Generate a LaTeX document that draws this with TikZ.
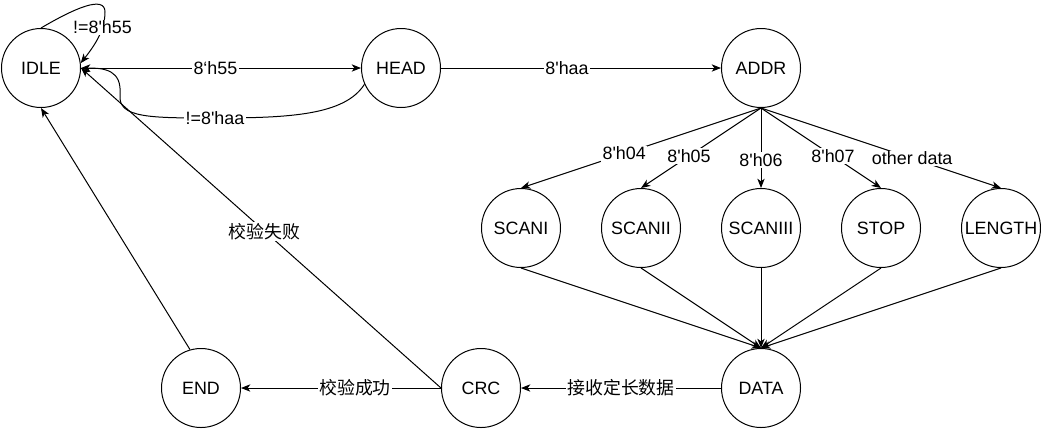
\documentclass[tikz,border=0pt]{standalone}
\usepackage{fontspec}
\setmainfont{Liberation Sans}
\newfontfamily\cjk{Noto Sans CJK SC}
\usetikzlibrary{arrows.meta}
\tikzset{every picture/.style={x=0.75pt, y=-0.75pt, line width=0.75pt, font=\fontsize{13.4}{16}\selectfont}}
\tikzset{every node/.style={inner sep=1pt}}
\tikzset{state/.style={draw, circle, minimum size=59.25pt, inner sep=0pt}}
\tikzset{lbl/.style={fill=white}}
\tikzset{trans/.style={-{Stealth[length=7pt, width=5.5pt, inset=2pt]}}}
\newcommand{\tq}{\textquotesingle}

\begin{document}
\begin{tikzpicture}
\useasboundingbox (0,0) rectangle (1041,430);
\node[state] (idle) at (41,68) {IDLE};
\node[state] (head) at (401,68) {HEAD};
\node[state] (addr) at (761,68) {ADDR};
\foreach \n/\t/\x in {scani/SCANI/521, scanii/SCANII/641, scaniii/SCANIII/761, stop/STOP/881, length/LENGTH/1001} {
\node[state] (\n) at (\x,228) {\t};
}
\node[state] (data) at (761,388) {DATA};
\node[state] (crc) at (481,388) {CRC};
\node[state] (fin) at (201,388) {END};
\draw[trans] (idle.north) .. controls (75,8) and (105,-5) .. (105,12) .. controls (105,30) and (95,45) .. (idle.7) node[lbl,pos=0.3] {!=8\tq h55};
\draw[trans] (idle) -- node[lbl,pos=0.48] {8‘h55} (head);
\draw[trans] (head.204) .. controls (345,115) and (290,118) .. (215,118) node[lbl] {!=8\tq haa} .. controls (150,118) and (118,118) .. (120,95) .. controls (122,70) and (105,68) .. (idle.east);
\draw[trans] (head) -- node[lbl,pos=0.45] {8\tq haa} (addr);
\foreach \n/\l/\p in {scani/8\tq h04/0.57, scanii/8\tq h05/0.6, scaniii/8\tq h06/0.65, stop/8\tq h07/0.6, length/other data/0.63} {
\draw[trans] (addr.south) -- node[lbl,pos=\p] {\l} (\n.north);
\draw[trans] (\n.south) -- (data.north);
}
\draw[trans] (data) -- node[lbl] {\cjk 接收定长数据} (crc);
\draw[trans] (crc) -- node[lbl,pos=0.43] {\cjk 校验成功} (fin);
\draw[trans] (crc.west) -- node[lbl,pos=0.49] {\cjk 校验失败} (idle.east);
\draw[trans] (fin.106) -- (idle.south);
\end{tikzpicture}
\end{document}
